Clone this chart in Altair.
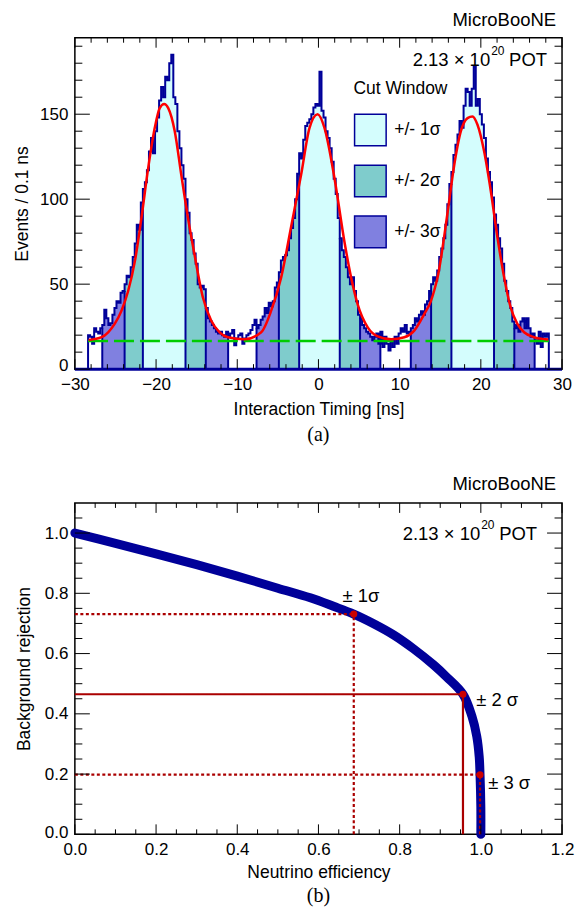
import altair as alt
import pandas as pd

FONT = "Liberation Sans"
SERIF = "Liberation Serif"
W, H = 488, 332
NAVY = "#000099"
FS = 17.5
LFS = 17

# ---------------- panel (a): interaction timing ----------------
bin_first_centre = -28.25
bin_width = 0.25
counts = [
    20, 19, 15, 24, 22, 21, 24, 26, 35, 30, 26, 27, 32, 36, 40, 39, 45, 46, 50, 55,
    54, 60, 66, 74, 85, 82, 98, 106, 110, 117, 128, 136, 127, 140, 148, 158, 166, 160, 172, 170,
    180, 185, 160, 156, 140, 130, 120, 112, 100, 92, 80, 76, 68, 62, 50,
    48, 49, 47, 36, 30, 28, 26, 24, 22, 21, 22, 20, 19, 22, 19, 21, 23, 14, 18, 20,
    21, 15, 18, 20, 21, 23, 26, 29, 24, 26, 29, 31, 36, 33, 39, 37, 40, 48, 51, 57,
    64, 66, 67, 70, 77, 83, 89, 100, 115, 127, 124, 135, 143, 145, 147, 150, 154, 156, 155,
    175, 152, 148, 140, 136, 130, 122, 112, 103, 89, 77, 70, 66, 60, 54, 50, 54, 46, 40, 32,
    30, 26, 24, 22, 21, 19, 17, 19, 21, 15, 22, 13, 19, 15, 11, 17, 13, 19, 15, 21,
    24, 22, 26, 21, 22, 24, 26, 30, 28, 32, 34, 32, 38, 40, 46, 50, 54, 52, 58,
    66, 71, 77, 85, 97, 109, 116, 126, 132, 138, 146, 142, 155, 165, 163, 155, 165, 178, 155, 159,
    150, 144, 136, 124, 116, 110, 101, 91, 85, 77, 71, 62, 52, 46, 40, 36, 28, 24, 26, 22,
    28, 30, 24, 30, 24, 19, 21, 17, 15, 22, 13, 21, 19, 21,
]
fit_t = [-28.3, -26.7, -25.9, -25.1, -24.26, -23.44, -22.6, -21.8, -20.98, -20.16, -19.55, -19.0,
         -18.5, -17.7, -16.9, -16.07, -15.25, -14.22, -13.2, -12.17, -11.15, -9.1, -7.05, -5.82,
         -4.59, -3.36, -2.13, -1.1, -0.1, 0.74, 1.97, 3.2, 4.02, 4.84, 6.07, 7.3, 8.94, 10.58,
         11.8, 13.03, 13.85, 14.3, 14.76, 15.08, 15.9, 16.72, 17.54, 18.36, 18.97, 19.59, 20.41,
         21.23, 22.05, 22.87, 23.69, 24.5, 25.33, 26.55, 27.99, 28.3]
fit_n = [17.2, 18.8, 21.7, 26.6, 34.4, 46, 63.7, 89, 118, 142, 153.6, 156,
         153.6, 140, 114.5, 89, 67, 42, 28.5, 21.7, 18.8, 17.6, 21.7, 34.4,
         54, 84, 114.5, 142, 150, 142, 112.5, 75, 54, 38, 24.6, 19.3, 17.6, 18.8,
         22.7, 32.4, 40, 47, 56, 65, 92, 120, 140, 147.7, 148.7, 143.8, 128,
         104.7, 77.4, 54, 36, 26.6, 21.7, 18.8, 17.6, 17.4]
flat_level = 16.6

sig_labels = ["+/- 1σ", "+/- 2σ", "+/- 3σ"]
sig_colors = ["#d4fdfd", "#7fcccc", "#8080e0"]
sig1_lo = [-21.5, -2.45, 16.4]
sig1_hi = [-16.3, 2.62, 21.5]
sig2_lo = [-23.9, -4.96, 13.9]
sig2_hi = [-13.9, 5.08, 24.0]
sig3_lo = [-26.5, -7.6, 11.3]
sig3_hi = [-11.2, 7.7, 26.6]

# ---------------- panel (b): efficiency vs rejection ----------------
eff = [0.0, 0.1, 0.2, 0.3, 0.4, 0.5, 0.58, 0.637, 0.687, 0.736, 0.785, 0.834, 0.884,
       0.916, 0.956, 0.978, 0.990, 0.996, 0.998, 1.0, 1.0]
rej = [1.0, 0.966, 0.931, 0.895, 0.857, 0.817, 0.785, 0.757, 0.731, 0.699, 0.662, 0.616, 0.562,
       0.522, 0.465, 0.392, 0.325, 0.257, 0.198, 0.09, 0.0]
wp_eff = [0.687, 0.956, 0.998]
wp_rej = [0.731, 0.465, 0.198]
wp_style = ["dot", "solid", "dot"]
wp_labels = ["± 1σ", "± 2 σ", "± 3 σ"]

# ================= build tables =================
centres = [bin_first_centre + i * bin_width for i in range(len(counts))]


def region_of(c):
    for lab, los_, his_ in ((sig_labels[0], sig1_lo, sig1_hi),
                            (sig_labels[1], sig2_lo, sig2_hi),
                            (sig_labels[2], sig3_lo, sig3_hi)):
        for lo, hi in zip(los_, his_):
            if lo <= c <= hi:
                return lab
    return None


regions = [region_of(c) for c in centres]
los = [c - bin_width / 2 for c in centres]
his = [c + bin_width / 2 for c in centres]

out_rows = [{"x": los[0], "n": 0, "i": 0}]
for k in range(len(counts)):
    out_rows.append({"x": los[k], "n": counts[k], "i": k + 1})
out_rows.append({"x": his[-1], "n": 0, "i": len(counts) + 1})
outline_df = pd.DataFrame(out_rows)

area_rows = []
seg = -1
k = 0
while k < len(counts):
    if regions[k] is None:
        k += 1
        continue
    seg += 1
    j = k
    while j < len(counts) and regions[j] == regions[k]:
        area_rows.append({"x": los[j], "n": counts[j], "region": regions[k], "seg": seg})
        j += 1
    area_rows.append({"x": his[j - 1], "n": counts[j - 1], "region": regions[k], "seg": seg})
    k = j
area_df = pd.DataFrame(area_rows)

bnd_rows = []
for k in range(1, len(counts)):
    if regions[k] != regions[k - 1]:
        bnd_rows.append({"x": los[k], "n": min(counts[k], counts[k - 1]), "z": 0})
bnd_df = pd.DataFrame(bnd_rows)

fit_df = pd.DataFrame({"x": fit_t, "n": fit_n})

roc_df = pd.DataFrame({"eff": eff, "rej": rej, "i": list(range(len(eff)))})
wp_df = pd.DataFrame({"eff": wp_eff, "rej": wp_rej, "style": wp_style, "z": [0.0] * 3})


# ================= helpers =================
def axis_x(title, values, fmt, title_y):
    return alt.Axis(title=title, values=values, format=fmt, ticks=False, domain=False, grid=False,
                    labelPadding=7, labelFontSize=LFS, labelFont=FONT, labelColor="black",
                    labelFlush=False, labelOverlap=False,
                    titleFontSize=FS, titleFont=FONT, titleFontWeight="normal", titleColor="black",
                    titleY=title_y, titleBaseline="middle")


def axis_y(title, values, fmt, title_x, zero_shift=0):
    return alt.Axis(title=title, values=values, format=fmt, ticks=False, domain=False, grid=False,
                    labelPadding=7, labelFontSize=LFS, labelFont=FONT, labelColor="black",
                    labelFlush=False, labelOverlap=False,
                    labelOffset=alt.expr(f"datum.value === 0 ? {zero_shift} : 0"),
                    titleFontSize=FS, titleFont=FONT, titleFontWeight="normal", titleColor="black",
                    titleX=title_x, titleAngle=270, titleAlign="center", titleBaseline="middle")


def tick_layers(xs, ys, ax, ay, x_major, x_minor, y_major, y_minor):
    layers = []
    for vals, L in ((x_major, 10), (x_minor, 5)):
        d = pd.DataFrame({"v": vals})
        for y0, y1 in ((H, H - L), (0, L)):
            layers.append(alt.Chart(d).mark_rule(color="black", strokeWidth=1).encode(
                x=alt.X("v:Q", scale=xs, axis=ax), y=alt.value(y0), y2=alt.value(y1)))
    for vals, L in ((y_major, 15), (y_minor, 7.5)):
        d = pd.DataFrame({"v": vals})
        for x0, x1 in ((0, L), (W, W - L)):
            layers.append(alt.Chart(d).mark_rule(color="black", strokeWidth=1).encode(
                y=alt.Y("v:Q", scale=ys, axis=ay), x=alt.value(x0), x2=alt.value(x1)))
    return layers


def txt(s, x, y, size=FS, align="left", font=FONT):
    return alt.Chart(pd.DataFrame({"s": [s]})).mark_text(
        align=align, baseline="middle", fontSize=size, font=font, color="black").encode(
        x=alt.value(x), y=alt.value(y), text="s:N")


# ================= panel (a) =================
xs_a = alt.Scale(domain=[-30, 30], nice=False, zero=False)
ys_a = alt.Scale(domain=[0, 195], nice=False)
ax_a = axis_x("Interaction Timing [ns]", [-30, -20, -10, 0, 10, 20, 30], "d", 40)
ay_a = axis_y("Events / 0.1 ns", [0, 50, 100, 150], "d", -52, zero_shift=-4)

area = alt.Chart(area_df).mark_area(interpolate="step-after", opacity=1).encode(
    x=alt.X("x:Q", scale=xs_a, axis=ax_a),
    y=alt.Y("n:Q", scale=ys_a, stack=None, axis=ay_a),
    color=alt.Color("region:N", scale=alt.Scale(domain=sig_labels, range=sig_colors),
                    legend=alt.Legend(title="Cut Window", orient="none", legendX=279, legendY=42,
                                      padding=0, symbolType="square", symbolSize=1000,
                                      symbolStrokeColor=NAVY, symbolStrokeWidth=1.5, symbolOpacity=1,
                                      labelFontSize=FS, labelFont=FONT, labelColor="black",
                                      labelOffset=7, rowPadding=13,
                                      titleFontSize=FS, titleFont=FONT, titleFontWeight="normal",
                                      titleColor="black", titlePadding=16)),
    detail="seg:N",
)
bounds = alt.Chart(bnd_df).mark_rule(color=NAVY, strokeWidth=2).encode(
    x=alt.X("x:Q", scale=xs_a, axis=ax_a), y=alt.Y("n:Q", scale=ys_a, axis=ay_a), y2="z:Q")
outline = alt.Chart(outline_df).mark_line(interpolate="step-after", color=NAVY, strokeWidth=2).encode(
    x=alt.X("x:Q", scale=xs_a, axis=ax_a), y=alt.Y("n:Q", scale=ys_a, axis=ay_a), order="i:Q")
baseline = alt.Chart(pd.DataFrame({"a": [0]})).mark_rule(color=NAVY, strokeWidth=3).encode(
    x=alt.value(0), x2=alt.value(W), y=alt.value(H))
green = alt.Chart(pd.DataFrame({"x": [los[0]], "x2": [his[-1]], "y": [flat_level]})).mark_rule(
    color="#00cc00", strokeWidth=2.5, strokeDash=[20, 6]).encode(
    x=alt.X("x:Q", scale=xs_a, axis=ax_a), x2="x2:Q", y=alt.Y("y:Q", scale=ys_a, axis=ay_a))
fit = alt.Chart(fit_df).mark_line(interpolate="monotone", color="#ff0000", strokeWidth=2.5).encode(
    x=alt.X("x:Q", scale=xs_a, axis=ax_a), y=alt.Y("n:Q", scale=ys_a, axis=ay_a))

ticks_a = tick_layers(xs_a, ys_a, ax_a, ay_a, [-30, -20, -10, 0, 10, 20, 30],
                      [v for v in range(-30, 31, 2) if v % 10 != 0],
                      [0, 50, 100, 150], [v for v in range(0, 195, 10) if v % 50 != 0])

top = alt.layer(
    area, bounds, outline, baseline, green, fit, *ticks_a,
    txt("MicroBooNE", 482, -18, 18.5, "right"),
    txt("2.13 × 10", 416, 22, 18.5, "right"),
    txt("20", 417, 13, 12),
    txt("POT", 435, 22, 18.5),
    txt("(a)", W / 2, H + 66, 20, "center", SERIF),
).properties(width=W, height=H)

# ================= panel (b) =================
xs_b = alt.Scale(domain=[0, 1.2], nice=False, zero=False)
ys_b = alt.Scale(domain=[0, 1.1], nice=False)
ax_b = axis_x("Neutrino efficiency", [0, 0.2, 0.4, 0.6, 0.8, 1.0, 1.2], ".1f", 38)
ay_b = axis_y("Background rejection", [0, 0.2, 0.4, 0.6, 0.8, 1.0], ".1f", -50, zero_shift=-2)

roc = alt.Chart(roc_df).mark_line(color=NAVY, strokeWidth=9, strokeCap="round",
                                  interpolate="catmull-rom").encode(
    x=alt.X("eff:Q", scale=xs_b, axis=ax_b),
    y=alt.Y("rej:Q", scale=ys_b, axis=ay_b),
    order="i:Q",
)
dash = alt.StrokeDash("style:N", scale=alt.Scale(domain=["dot", "solid"], range=[[3, 2.5], [1, 0]]), legend=None)
hline = alt.Chart(wp_df).mark_rule(color="#aa0000", strokeWidth=2.2).encode(
    x=alt.X("z:Q", scale=xs_b, axis=ax_b), x2="eff:Q",
    y=alt.Y("rej:Q", scale=ys_b, axis=ay_b), strokeDash=dash)
vline = alt.Chart(wp_df).mark_rule(color="#aa0000", strokeWidth=2.2).encode(
    x=alt.X("eff:Q", scale=xs_b, axis=ax_b),
    y=alt.Y("z:Q", scale=ys_b, axis=ay_b), y2="rej:Q", strokeDash=dash)
dots = alt.Chart(wp_df).mark_circle(size=50, color="#cc0000", opacity=1).encode(
    x=alt.X("eff:Q", scale=xs_b, axis=ax_b), y=alt.Y("rej:Q", scale=ys_b, axis=ay_b))

ticks_b = tick_layers(xs_b, ys_b, ax_b, ay_b, [0, 0.2, 0.4, 0.6, 0.8, 1.0, 1.2],
                      [round(0.05 * k, 2) for k in range(0, 25) if k % 4 != 0],
                      [0, 0.2, 0.4, 0.6, 0.8, 1.0],
                      [round(0.05 * k, 2) for k in range(0, 22) if k % 4 != 0])

bottom = alt.layer(
    roc, hline, vline, dots, *ticks_b,
    txt(wp_labels[0], 268, 93, 18.5),
    txt(wp_labels[1], 402, 197, 18.5),
    txt(wp_labels[2], 414, 281, 18.5),
    txt("MicroBooNE", 482, -19, 18.5, "right"),
    txt("2.13 × 10", 406, 31, 18.5, "right"),
    txt("20", 407, 22, 12),
    txt("POT", 425, 31, 18.5),
    txt("(b)", W / 2, H + 62, 20, "center", SERIF),
).properties(width=W, height=H)

chart = alt.vconcat(top, bottom, spacing=28,
                    padding={"left": 13, "top": 9, "right": 5, "bottom": 5}
                    ).configure_view(stroke="black", strokeWidth=1.5)

chart.save("out.html", embed_options={"renderer": "svg", "actions": False})
